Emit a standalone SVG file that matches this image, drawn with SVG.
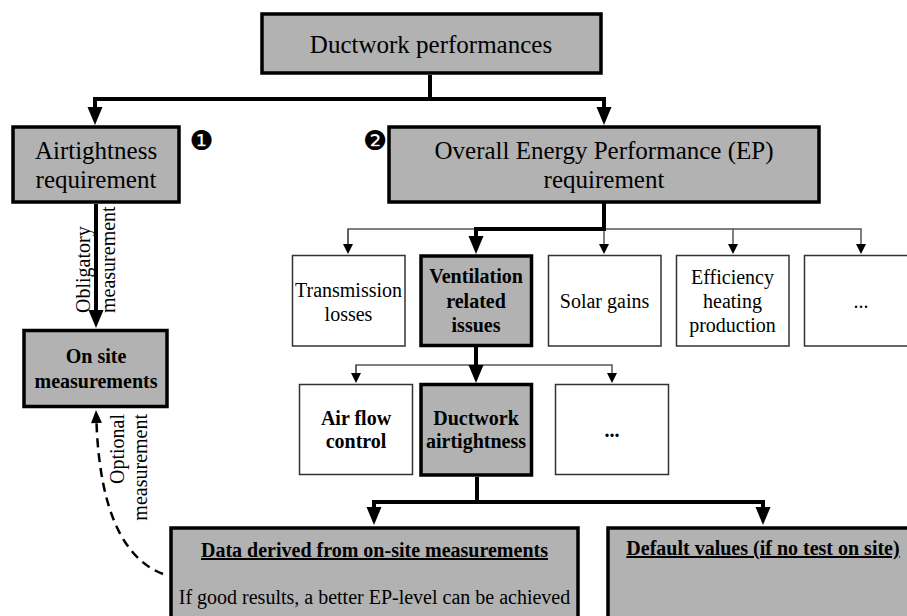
<svg xmlns="http://www.w3.org/2000/svg" width="907" height="616" viewBox="0 0 907 616">
<style>
.t{font-family:"Liberation Serif","Times New Roman",serif;fill:#000}
.r20{font-size:20px;font-weight:400}
.r24{font-size:25px;font-weight:400}
.b20{font-size:20px;font-weight:bold}
.gk{fill:#b2b2b2;stroke:#000;stroke-width:3.5}
.wt{fill:#fff;stroke:#333;stroke-width:1.5}
.thick{fill:none;stroke:#000;stroke-width:4;stroke-linejoin:miter}
.thin{fill:none;stroke:#555;stroke-width:1.5}
.num{font-family:"DejaVu Sans",sans-serif;font-size:27px}
</style>
<defs>
<marker id="ah" markerUnits="userSpaceOnUse" markerWidth="20" markerHeight="16" viewBox="0 -8 20 16" refX="0" refY="0" orient="auto" overflow="visible">
<path d="M0,-7.5 L18,0 L0,7.5 z" fill="#000"/>
</marker>
<marker id="as" markerUnits="userSpaceOnUse" markerWidth="11" markerHeight="11" viewBox="0 -5.5 11 11" refX="0" refY="0" orient="auto" overflow="visible">
<path d="M0,-5 L10,0 L0,5 z" fill="#000"/>
</marker>
<marker id="ad" markerUnits="userSpaceOnUse" markerWidth="14" markerHeight="12" viewBox="0 -6 14 12" refX="0" refY="0" orient="auto" overflow="visible">
<path d="M0,-5.5 L13,0 L0,5.5 z" fill="#000"/>
</marker>
</defs>
<rect width="907" height="616" fill="#fff"/>

<g id="connectors">
<path class="thick" d="M430,75 V99"/>
<path class="thick" d="M432,99 H95 V107" marker-end="url(#ah)"/>
<path class="thick" d="M428,99 H604 V107" marker-end="url(#ah)"/>
<path class="thick" d="M96,204 V310" marker-end="url(#ah)"/>
<path class="thin" d="M348,244 V229 H861 V244" marker-end="url(#as)"/>
<path class="thin" d="M348,229 V244" marker-end="url(#as)"/>
<path class="thin" d="M604,229 V244" marker-end="url(#as)"/>
<path class="thin" d="M733,229 V244" marker-end="url(#as)"/>
<path class="thick" d="M604,203 V229 H476 V236" marker-end="url(#ah)"/>
<path class="thin" d="M356,373 V365 H612 V373" marker-end="url(#as)"/>
<path class="thin" d="M356,365 V373" marker-end="url(#as)"/>
<path class="thick" d="M476,347 V365" marker-end="url(#ah)"/>
<path class="thick" d="M477,477 V502"/>
<path class="thick" d="M479,502 H374 V507" marker-end="url(#ah)"/>
<path class="thick" d="M475,502 H763 V507" marker-end="url(#ah)"/>
<path d="M163,574 C124,559 100,512 96.5,423" fill="none" stroke="#000" stroke-width="2.5" stroke-dasharray="9 6" marker-end="url(#ad)"/>
<text class="t r20" transform="translate(90,313) rotate(-90)">Obligatory</text>
<text class="t r20" transform="translate(115,313) rotate(-90)">measurement</text>
<text class="t r20" text-anchor="end" transform="translate(124,414) rotate(-90)">Optional</text>
<text class="t r20" text-anchor="end" transform="translate(147,414) rotate(-90)">measurement</text>
</g>

<g id="n-ductwork-performances">
<rect class="gk" x="262" y="14" width="339" height="59"/>
<text class="t r24" x="431" y="53" text-anchor="middle">Ductwork performances</text>
</g>

<g id="n-airtightness-req">
<rect class="gk" x="13" y="127" width="166" height="75"/>
<text class="t r24" x="96" y="159" text-anchor="middle">Airtightness</text>
<text class="t r24" x="96" y="188" text-anchor="middle">requirement</text>
<text class="num" x="201.5" y="150" text-anchor="middle">❶</text>
</g>

<g id="n-ep-req">
<rect class="gk" x="389" y="127" width="430" height="75"/>
<text class="t r24" x="604" y="159" text-anchor="middle">Overall Energy Performance (EP)</text>
<text class="t r24" x="604" y="188" text-anchor="middle">requirement</text>
<text class="num" x="375" y="150" text-anchor="middle">❷</text>
</g>

<g id="n-on-site">
<rect class="gk" x="24" y="330.5" width="143" height="76"/>
<text class="t b20" x="96" y="363" text-anchor="middle">On site</text>
<text class="t b20" x="96" y="388" text-anchor="middle">measurements</text>
</g>

<g id="n-transmission">
<rect class="wt" x="292.5" y="255.5" width="112.5" height="90.5"/>
<text class="t r20" x="348.5" y="297" text-anchor="middle">Transmission</text>
<text class="t r20" x="348.5" y="321" text-anchor="middle">losses</text>
</g>

<g id="n-ventilation">
<rect class="gk" x="421" y="256" width="110.5" height="89.5"/>
<text class="t b20" x="476" y="283" text-anchor="middle">Ventilation</text>
<text class="t b20" x="476" y="308" text-anchor="middle">related</text>
<text class="t b20" x="476" y="332" text-anchor="middle">issues</text>
</g>

<g id="n-solar">
<rect class="wt" x="548.5" y="255.5" width="112.5" height="90.5"/>
<text class="t r20" x="604.5" y="308" text-anchor="middle">Solar gains</text>
</g>

<g id="n-efficiency">
<rect class="wt" x="676.5" y="255.5" width="112.5" height="90.5"/>
<text class="t r20" x="732.5" y="284" text-anchor="middle">Efficiency</text>
<text class="t r20" x="732.5" y="308" text-anchor="middle">heating</text>
<text class="t r20" x="732.5" y="332" text-anchor="middle">production</text>
</g>

<g id="n-more-1">
<rect class="wt" x="804.5" y="255.5" width="112.5" height="90.5"/>
<text class="t r20" x="861" y="308" text-anchor="middle">...</text>
</g>

<g id="n-airflow">
<rect class="wt" x="299.5" y="384.5" width="113" height="90"/>
<text class="t b20" x="356" y="425" text-anchor="middle">Air flow</text>
<text class="t b20" x="356" y="448" text-anchor="middle">control</text>
</g>

<g id="n-ductwork-airtightness">
<rect class="gk" x="421" y="384.5" width="110.5" height="90.5"/>
<text class="t b20" x="476" y="425" text-anchor="middle">Ductwork</text>
<text class="t b20" x="476" y="448" text-anchor="middle">airtightness</text>
</g>

<g id="n-more-2">
<rect class="wt" x="555.5" y="384.5" width="113" height="90"/>
<text class="t b20" x="612" y="437" text-anchor="middle">...</text>
</g>

<g id="n-data-derived">
<rect class="gk" x="171" y="528" width="407" height="120"/>
<text class="t b20" x="374.5" y="557" text-anchor="middle" text-decoration="underline">Data derived from on-site measurements</text>
<text class="t r20" x="374.5" y="604" text-anchor="middle">If good results, a better EP-level can be achieved</text>
</g>

<g id="n-default">
<rect class="gk" x="608" y="528" width="320" height="120"/>
<text class="t b20" x="763" y="555" text-anchor="middle" text-decoration="underline">Default values (if no test on site)</text>
</g>
</svg>
